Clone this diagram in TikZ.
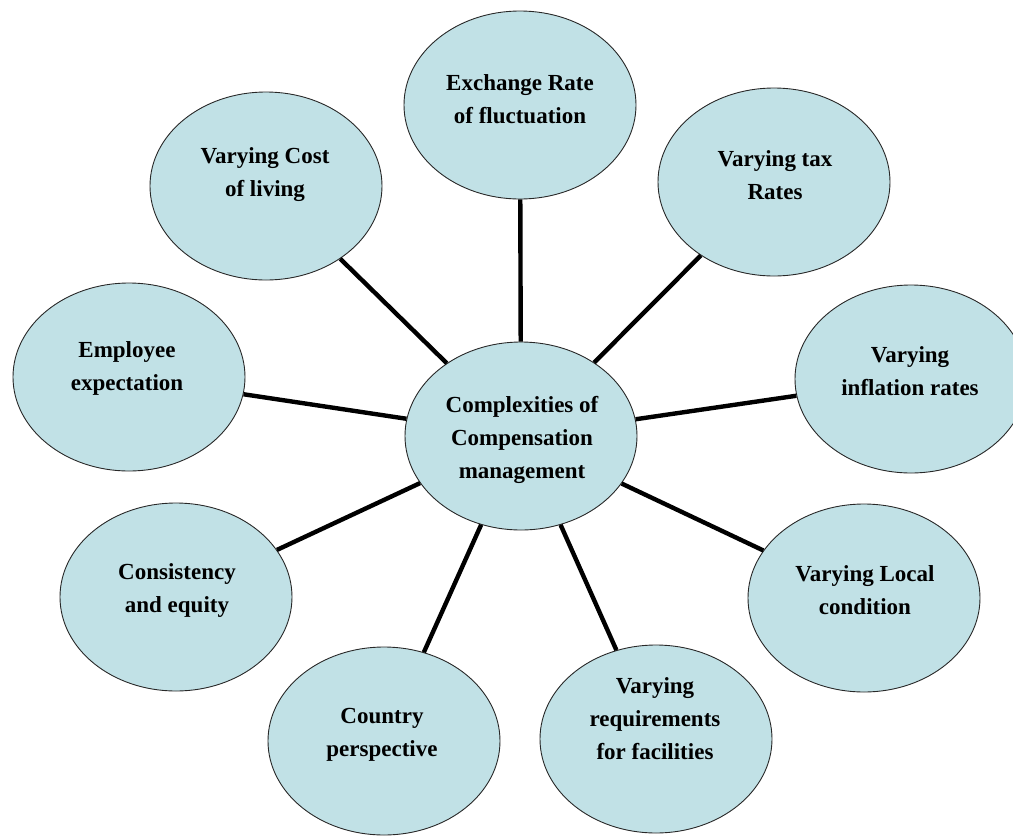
\documentclass[tikz,border=0pt]{standalone}
\usepackage{fontspec}
\setmainfont{Liberation Serif}
\usetikzlibrary{shapes.geometric}
\definecolor{bubblefill}{RGB}{193,225,230}
\definecolor{bubbleedge}{RGB}{40,40,40}
\tikzset{
  bubble/.style={ellipse, draw=bubbleedge, line width=0.9pt, fill=bubblefill,
    minimum width=232pt, minimum height=188pt, inner sep=0pt},
  caption/.style={align=center, inner sep=0pt,
    font=\fontsize{23}{33}\selectfont\bfseries},
  spoke/.style={line width=4.4pt, black}
}
\begin{document}
\begin{tikzpicture}[x=1pt, y=-1pt]
\useasboundingbox (0,0) rectangle (1013,836);
% hub and surrounding factors
\node[bubble] (hub) at (521,436) {};
\node[bubble] (exch) at (520,105) {};
\node[bubble] (cost) at (266,186) {};
\node[bubble] (tax) at (774,182) {};
\node[bubble] (emp) at (129,377) {};
\node[bubble] (infl) at (911,379) {};
\node[bubble] (cons) at (176,597) {};
\node[bubble] (local) at (864,598) {};
\node[bubble] (country) at (384,741) {};
\node[bubble] (facil) at (656,739) {};
% spokes from the hub
\foreach \n in {exch,cost,tax,emp,infl,cons,local,country,facil}
  \draw[spoke] (hub) -- (\n);
% captions
\node[caption] (thub) at (522,440) {Complexities of\\Compensation\\management};
\node[caption] (texch) at (520,99) {Exchange Rate\\of fluctuation};
\node[caption] (tcost) at (265,175) {Varying Cost\\of living};
\node[caption] (ttax) at (775,175) {Varying tax\\Rates};
\node[caption] (temp) at (127,368) {Employee\\expectation};
\node[caption] (tinfl) at (910,371) {Varying\\inflation rates};
\node[caption] (tcons) at (177,590) {Consistency\\and equity};
\node[caption] (tlocal) at (865,590) {Varying Local\\condition};
\node[caption] (tcountry) at (382,735) {Country\\perspective};
\node[caption] (tfacil) at (655,719) {Varying\\requirements\\for facilities};
\end{tikzpicture}
\end{document}
